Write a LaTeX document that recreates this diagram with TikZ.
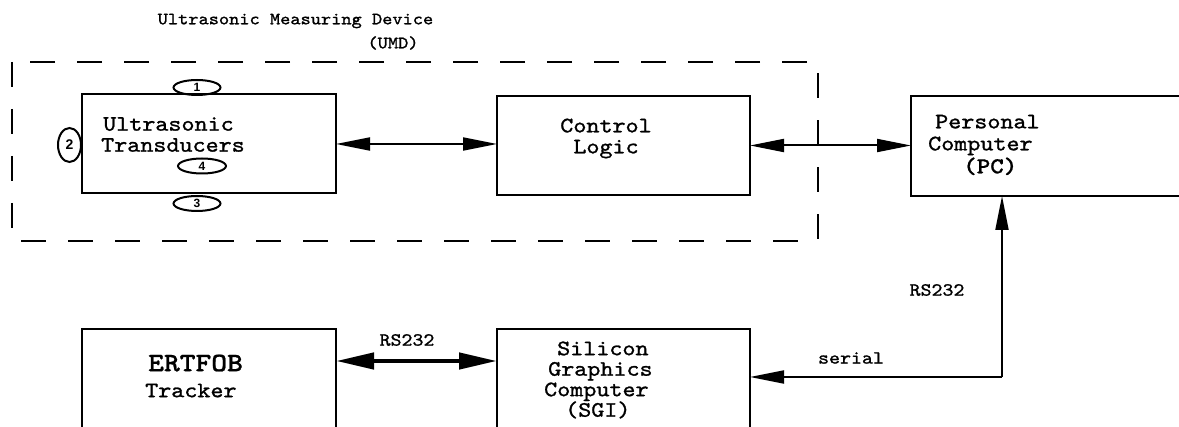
\documentclass[tikz,border=0pt]{standalone}
\usepackage{fontspec}
\usetikzlibrary{arrows.meta,shapes.geometric}
\newfontfamily\numfont{Liberation Sans Bold}
% typewriter faces, widened to Courier proportions
\newfontfamily\twface{lmmono10-regular.otf}[FakeStretch=1.13,FakeBold=1.2]
\newfontfamily\twbface{lmmonolt10-bold.otf}[FakeStretch=1.13,FakeBold=0.8]
\newcommand\tw[2]{\twface\fontsize{#1}{#2}\selectfont}
\newcommand\twb[2]{\twbface\fontsize{#1}{#2}\selectfont}
\begin{document}
\begin{tikzpicture}[x=1pt,y=-1pt,
  block/.style={draw,line width=2.4pt,inner sep=0pt,outer sep=0pt},
  txt/.style={inner sep=0pt,font=\tw{22}{21}},
  lbl/.style={inner sep=0pt,font=\tw{18.5}{18.5}},
  port/.style={draw,ellipse,line width=2pt,inner sep=0pt,outer sep=0pt},
  ptxt/.style={inner sep=0pt,font=\numfont\fontsize{12}{12}\selectfont},
  link/.style={line width=2pt,{Triangle[length=34pt,width=13pt]}-{Triangle[length=34pt,width=13pt]}},
  onearrow/.style={line width=2pt,-{Triangle[length=34pt,width=13pt]}},
  heavylink/.style={line width=4.5pt,{Triangle[length=38pt,width=16pt]}-{Triangle[length=38pt,width=16pt]}}]
\useasboundingbox (0,0) rectangle (1179,427);
\clip (0,0) rectangle (1179,427);

% device enclosure
\draw[line width=2pt,dash pattern=on 25pt off 22pt] (12,62) rectangle (818,241);
\node[inner sep=0pt,font=\tw{17.2}{17.2}] (title) at (295.5,21) {Ultrasonic Measuring Device};
\node[inner sep=0pt,font=\tw{17.2}{17.2}] (umd) at (393,43) {(UMD)};

% main blocks
\node[block,minimum width=254pt,minimum height=99pt] (trans) at (209,143.5) {};
\node[block,minimum width=253pt,minimum height=99pt] (ctrl) at (623.5,145.5) {};
\node[block,minimum width=279pt,minimum height=100pt] (pc) at (1050.5,146) {};
\node[block,minimum width=254pt,minimum height=111pt] (ert) at (209,384.5) {};
\node[block,minimum width=253pt,minimum height=111pt] (sgi) at (623.5,384.5) {};

% block texts
\node[txt,align=left,anchor=west] (ttxt) at (101,134.5)
  {\hspace*{2pt}Ultrasonic\\Transducers};
\node[txt,align=center] (ctxt) at (606,138.5) {Control\\Logic};
\node[txt,align=left,anchor=west,font=\tw{22}{22}] (ptxt) at (928,145)
  {\hspace*{7pt}Personal\\Computer\\[1pt]\hspace*{35pt}{\twb{22.8}{22.8}(PC)}};
\node[txt,align=left,anchor=west,font=\tw{22}{26}] (etxt) at (145,376)
  {\hspace*{3pt}{\twb{26.6}{26.6}ERTFOB}\\Tracker};
\node[txt,align=left,anchor=west,font=\tw{22}{20.5}] (stxt) at (544,380)
  {\hspace*{13pt}Silicon\\\hspace*{4pt}Graphics\\Computer\\\hspace*{21pt}(SGI)};

% transducer ports
\node[port,minimum width=47pt,minimum height=15pt] (u1) at (197,87.5) {};
\node[ptxt] at (u1) {1};
\node[port,minimum width=23pt,minimum height=34pt] (u2) at (69.5,145) {};
\node[ptxt,font=\numfont\fontsize{14}{14}\selectfont] at (u2) {2};
\node[port,minimum width=47pt,minimum height=15pt] (u3) at (197,203.5) {};
\node[ptxt] at (u3) {3};
\node[port,minimum width=48pt,minimum height=15pt] (u4) at (202,166) {};
\node[ptxt] at (u4) {4};

% connections
\coordinate (bend) at (1002,377);
\draw[link] (trans.east |- 0,144) -- (ctrl.west |- 0,144);
\draw[link] (ctrl.east) -- (ctrl.east -| pc.west);
\draw[onearrow] (bend) -- (bend |- pc.south);
\draw[onearrow] (bend) -- (bend -| sgi.east);
\draw[heavylink] (ert.east |- 0,361) -- (sgi.west |- 0,361);

% link labels
\node[lbl] (rs1) at (937,290) {RS232};
\node[lbl] (ser) at (851,358) {serial};
\node[lbl] (rs2) at (407,340) {RS232};
\end{tikzpicture}
\end{document}
